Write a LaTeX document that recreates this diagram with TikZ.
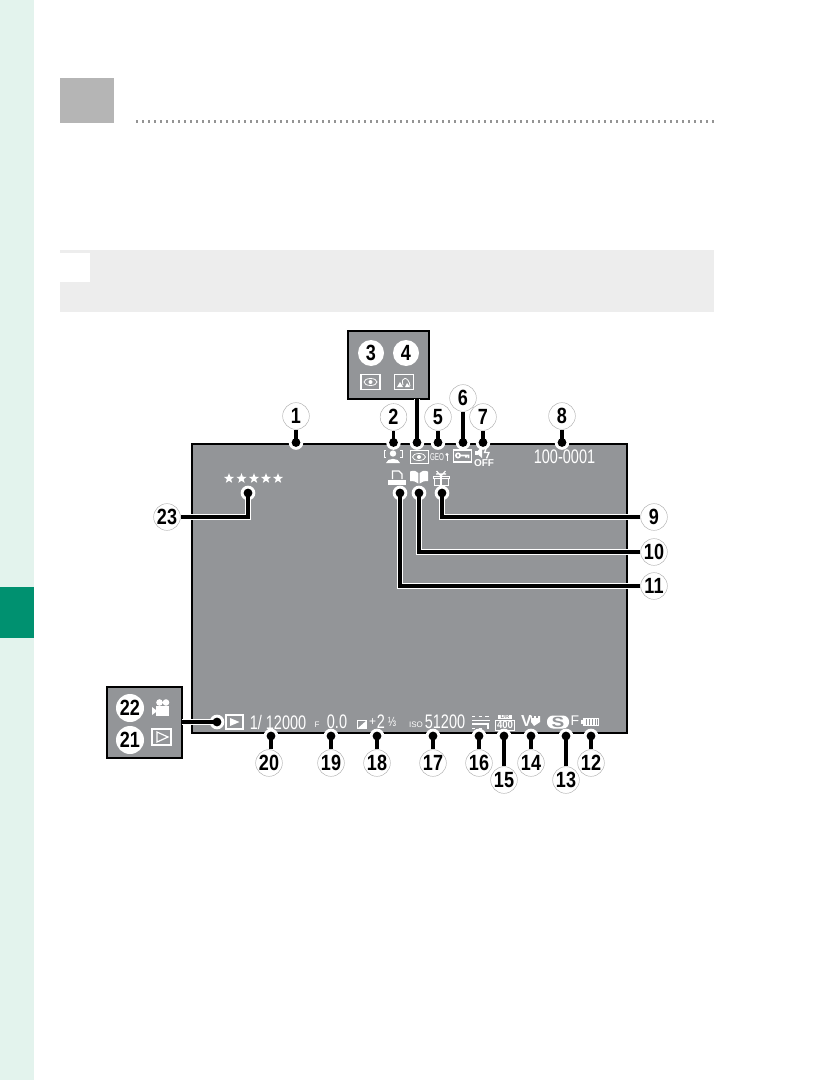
\documentclass[tikz,border=0pt]{standalone}
\usepackage{fontspec}
\setmainfont{Liberation Sans}
\usetikzlibrary{shapes.geometric, arrows.meta}
\definecolor{bandgreen}{HTML}{E3F3ED}
\definecolor{tabgreen}{HTML}{009170}
\definecolor{screengray}{HTML}{939598}
\definecolor{numring}{HTML}{A8A8A8}
\newcommand{\numtext}[1]{\scalebox{0.82}[1]{#1}}
\newcommand{\lcdtext}[1]{\scalebox{0.74}[1]{#1}}
\tikzset{
    callout/.style={circle, draw=numring, line width=0.3pt, fill=white, text=black, inner sep=0pt, minimum size=20pt, font=\fontsize{16.5}{16.5}\bfseries},
    insetnum/.style={circle, fill=white, text=black, inner sep=0pt, minimum size=19.5pt, font=\fontsize{16.5}{16.5}\bfseries},
    leadring/.style={circle, fill=white, inner sep=0pt, minimum size=11pt},
    leader/.style={line width=2.4pt, draw=black, shorten >=-3.2pt, -{Circle[length=6.4pt, width=6.4pt]}, preaction={draw=white, line width=3.8pt}},
    lcd/.style={text=white, inner sep=0pt, font=\fontsize{14.7}{14.7}\selectfont},
    lcdsmall/.style={text=white, inner sep=0pt, font=\fontsize{6}{6}\selectfont},
    icon/.style={draw=white, line width=0.6pt},
    insetbox/.style={draw=black, line width=1.6pt, fill=screengray},
    starmark/.style={star, star points=5, star point ratio=2.4, fill=white, inner sep=0pt, minimum size=8pt},
}
\begin{document}
\begin{tikzpicture}[x=0.75pt, y=-0.75pt]
    \useasboundingbox (0,0) rectangle (825,1080);
    % page furniture
    \fill[white] (0,0) rectangle (825,1080);
    \fill[bandgreen] (0,0) rectangle (34,1080);
    \fill[tabgreen] (0,587) rectangle (34,638);
    \fill[black!29] (60,78) rectangle (114,123);
    \draw[black!42, line width=1.7pt, dash pattern=on 1.7pt off 2.8pt] (136,121.5) -- (714,121.5);
    \fill[black!7] (60,250) rectangle (714,312);
    \fill[white] (60,253) rectangle (90,282);

    % screen
    \draw[fill=screengray, line width=1pt] (192,444) rectangle (627,733);

    % readouts on the screen
    \node[lcd] (folder) at (564.5,456.5) {\lcdtext{100-0001}};
    \node[lcd] (shutter) at (278,722) {\lcdtext{1/ 12000}};
    \node[lcdsmall] (fmark) at (317,725) {F};
    \node[lcd] (aperture) at (337,722) {\lcdtext{0.0}};
    \node[lcdsmall, font=\fontsize{9}{9}\selectfont] (evplus) at (372.5,722) {+};
    \node[lcd] (evwhole) at (381,722) {\lcdtext{2}};
    \node[lcd, font=\fontsize{10}{10}\selectfont] (evpart) at (392,722) {\lcdtext{⅓}};
    \node[lcdsmall] (isomark) at (416,725) {ISO};
    \node[lcd] (iso) at (445,722) {\lcdtext{51200}};
    \node[lcdsmall, font=\fontsize{10.5}{10.5}\selectfont] (quality) at (575,721) {F};
    \node[starmark] (star1) at (229,478.5) {};
    \node[starmark] (star2) at (241.5,478.5) {};
    \node[starmark] (star3) at (254,478.5) {};
    \node[starmark] (star4) at (266,478.5) {};
    \node[starmark] (star5) at (278,478.5) {};

    % face detection
    \begin{scope}[shift={(393,456)}]
    \draw[icon] (-7,-6) -- (-9,-6) -- (-9,1) -- (-7,1) (7,-6) -- (9,-6) -- (9,1) -- (7,1);
    \fill[white] (0,-2.5) circle (3.2);
    \fill[white] (-7,7) .. controls (-6,1.5) and (6,1.5) .. (7,7) -- cycle;
    \end{scope}
    % eye
    \begin{scope}[shift={(419,457)}]
    \draw[icon] (-9,-6.5) rectangle (9,6.5);
    \draw[icon] (0,0) ellipse (6.5 and 3.5);
    \fill[white] (0,0) circle (2);
    \end{scope}
    % geotag
    \node[text=white, inner sep=0pt, font=\fontsize{7.5}{7.5}\selectfont] (geo) at (437,457) {\scalebox{0.62}[1]{GEO}};
    \fill[white] (447,454.5) circle (1.6);
    \draw[icon] (447,454.5) -- (447,461);
    % key
    \begin{scope}[shift={(462.5,456)}]
    \draw[icon, line width=0.9pt] (-9,-6) rectangle (9,6);
    \draw[icon, line width=1.2pt] (-4.5,-0.5) circle (2.2) (-2.3,-0.5) -- (6,-0.5) -- (6,2) (3.5,-0.5) -- (3.5,1.5);
    \end{scope}
    % sound off
    \begin{scope}[shift={(483,452.5)}]
    \fill[white] (-8,-2) rectangle (-5,2);
    \fill[white] (-5,-2) -- (-1,-5.5) -- (-1,5.5) -- (-5,2) -- cycle;
    \draw[icon, line width=1pt] (4,-6) -- (1.5,0) -- (6,0) -- (3.5,6);
    \end{scope}
    \node[text=white, inner sep=0pt, font=\fontsize{7.5}{7.5}\bfseries] (soundoff) at (484,463) {OFF};
    % print order
    \begin{scope}[shift={(397,478)}]
    \draw[icon, line width=0.9pt] (-4.5,1) -- (-4.5,-7) -- (2,-7) -- (5,-4) -- (5,1);
    \fill[white] (-9,2) rectangle (9,7);
    \end{scope}
    % photobook
    \begin{scope}[shift={(419,477.5)}]
    \fill[white] (-9,-6) .. controls (-5,-7.5) and (-2,-6.5) .. (-0.7,-4.5) -- (-0.7,6) .. controls (-3,3.5) and (-6,3.5) .. (-9,3.5) -- cycle;
    \fill[white] (9,-6) .. controls (5,-7.5) and (2,-6.5) .. (0.7,-4.5) -- (0.7,6) .. controls (3,3.5) and (6,3.5) .. (9,3.5) -- cycle;
    \end{scope}
    % gift
    \begin{scope}[shift={(441,478)}]
    \draw[icon, line width=0.7pt] (-8,-2) rectangle (8,0.5) (-7,0.5) rectangle (7,7);
    \draw[icon, line width=1pt] (0,-2) -- (0,7);
    \draw[icon, line width=0.9pt] (0,-2) -- (-4.5,-7) (0,-2) -- (4.5,-7) (-5,-4) -- (5,-4);
    \end{scope}
    % play mode
    \begin{scope}[shift={(234.5,722)}]
    \draw[icon, line width=0.8pt] (-8.5,-7) rectangle (8.5,7);
    \fill[white] (-4.5,-4) -- (5,0) -- (-4.5,4) -- cycle;
    \end{scope}
    % exposure compensation
    \begin{scope}[shift={(362,724.5)}]
    \draw[icon] (-4.5,-4) rectangle (4.5,4);
    \fill[white] (-4.5,4) -- (4.5,-4) -- (4.5,4) -- cycle;
    \end{scope}
    % film strip warning
    \begin{scope}[shift={(481,722)}]
    \draw[icon, line width=0.9pt] (-9,-1.5) -- (9,-1.5) (-9,2) -- (7,2) -- (7,7);
    \draw[icon, dash pattern=on 2.5pt off 2.5pt] (-9,-6) -- (9,-6) (-9,6) -- (4,6);
    \end{scope}
    % dynamic range
    \begin{scope}[shift={(505,722)}]
    \fill[white] (-7,-7.5) rectangle (7,-3);
    \node[text=screengray, inner sep=0pt, font=\fontsize{4.5}{4.5}\bfseries] (drmark) at (0,-5.2) {DR};
    \draw[icon] (-9.5,-2) rectangle (9.5,8);
    \node[text=white, inner sep=0pt, font=\fontsize{8}{8}\bfseries] (drvalue) at (0,3.3) {\scalebox{0.9}[1]{400}};
    \end{scope}
    % film simulation
    \begin{scope}[shift={(531,721)}]
    \node[text=white, inner sep=0pt, font=\fontsize{12}{12}\bfseries] (filmv) at (-4.5,0) {V};
    \fill[white] (0,-5) rectangle (9,1) (0,1) -- (9,1) -- (3,5) -- cycle;
    \draw[screengray, line width=0.8pt, dash pattern=on 1.5pt off 1.5pt] (1,-4) -- (9,-4);
    \end{scope}
    % image size
    \begin{scope}[shift={(558,722)}]
    \fill[white, rounded corners=4.5pt] (-11,-6.5) rectangle (11,6.5);
    \node[text=screengray, inner sep=0pt, font=\fontsize{11}{11}\bfseries] (sizemark) at (0,0) {\scalebox{1.3}[1]{S}};
    \end{scope}
    % battery
    \begin{scope}[shift={(590,721.5)}]
    \draw[icon] (-7,-3.5) rectangle (8,3.5);
    \fill[white] (-9.5,-2) rectangle (-7,2);
    \draw[icon, line width=4.5pt, dash pattern=on 1.3pt off 0.9pt] (-6,0) -- (7.5,0);
    \end{scope}

    % inset boxes
    \draw[insetbox] (348,331) rectangle (429,399);
    \draw[insetbox] (107,687) rectangle (182,758);
    \coordinate (insettop) at (417,399);
    \coordinate (insetleft) at (182,722);

    % inset contents
    \node[insetnum] (n3) at (371,353) {\numtext{3}};
    \node[insetnum] (n4) at (406,353) {\numtext{4}};
    \node[insetnum, minimum size=21pt] (n22) at (130,708) {\numtext{22}};
    \node[insetnum, minimum size=21pt] (n21) at (130,740) {\numtext{21}};
    \begin{scope}[shift={(370.5,382)}]
    \draw[icon, line width=0.8pt] (-9.5,-7.5) rectangle (9.5,7.5);
    \draw[icon] (0,0) ellipse (6.5 and 3.5);
    \fill[white] (0,0) circle (2);
    \end{scope}
    \begin{scope}[shift={(404,382)}]
    \draw[icon, line width=0.8pt] (-9.5,-7.5) rectangle (9.5,7.5);
    \draw[icon] (-1,3) .. controls (-4,-6) and (5,-6) .. (6,4);
    \fill[white] (-7,5) -- (-4,0) -- (-1,5) -- cycle (1,5) -- (3,1) -- (6,5) -- cycle;
    \end{scope}
    \begin{scope}[shift={(162,709)}]
    \fill[white] (-6,-3) rectangle (7,7);
    \fill[white] (-2.5,-6.5) circle (3.3) (4,-6.5) circle (3.3);
    \fill[white] (-10,-2) -- (-6,1) -- (-6,3) -- (-10,6) -- cycle;
    \end{scope}
    \begin{scope}[shift={(162,737)}]
    \draw[icon, line width=0.9pt] (-10,-8) rectangle (9,8);
    \draw[icon, line width=0.9pt] (-5,-5) -- (6,0) -- (-5,5) -- cycle;
    \end{scope}

    % callouts on top
    \node[callout] (n1) at (296,416) {\numtext{1}};
    \node[callout] (n2) at (393.5,417) {\numtext{2}};
    \node[callout] (n5) at (438,417) {\numtext{5}};
    \node[callout] (n6) at (463,398) {\numtext{6}};
    \node[callout] (n7) at (483,417) {\numtext{7}};
    \node[callout] (n8) at (562,416) {\numtext{8}};
    % callouts on the right
    \node[callout] (n9) at (654,517) {\numtext{9}};
    \node[callout] (n10) at (654,552) {\numtext{10}};
    \node[callout] (n11) at (654,586) {\numtext{11}};
    % callouts below
    \node[callout] (n12) at (591,763) {\numtext{12}};
    \node[callout] (n13) at (566,780) {\numtext{13}};
    \node[callout] (n14) at (531,763) {\numtext{14}};
    \node[callout] (n15) at (504,780) {\numtext{15}};
    \node[callout] (n16) at (479,763) {\numtext{16}};
    \node[callout] (n17) at (433,763) {\numtext{17}};
    \node[callout] (n18) at (377,763) {\numtext{18}};
    \node[callout] (n19) at (331,763) {\numtext{19}};
    \node[callout] (n20) at (269,763) {\numtext{20}};
    \node[callout] (n23) at (167,517) {\numtext{23}};

    % white rings at the free ends
    \node[leadring] (d1) at (296,442.5) {};
    \node[leadring] (d2) at (393.5,442.5) {};
    \node[leadring] (d34) at (417,442.5) {};
    \node[leadring] (d5) at (438,442.5) {};
    \node[leadring] (d6) at (463,442.5) {};
    \node[leadring] (d7) at (483,442.5) {};
    \node[leadring] (d8) at (562,442.5) {};
    \node[leadring] (d9) at (442,493) {};
    \node[leadring] (d10) at (419,493) {};
    \node[leadring] (d11) at (400,493) {};
    \node[leadring] (d12) at (591,736) {};
    \node[leadring] (d13) at (566,736) {};
    \node[leadring] (d14) at (531,736) {};
    \node[leadring] (d15) at (504,736) {};
    \node[leadring] (d16) at (479,736) {};
    \node[leadring] (d17) at (433,736) {};
    \node[leadring] (d18) at (377,736) {};
    \node[leadring] (d19) at (331,736) {};
    \node[leadring] (d20) at (271,736) {};
    \node[leadring] (d23) at (248,493) {};
    \node[leadring] (d2122) at (217,722) {};

    % leaders
    \draw[leader] (n1) -- (d1.center);
    \draw[leader] (n2) -- (d2.center);
    \draw[leader] (insettop) -- (d34.center);
    \draw[leader] (n5) -- (d5.center);
    \draw[leader] (n6) -- (d6.center);
    \draw[leader] (n7) -- (d7.center);
    \draw[leader] (n8) -- (d8.center);
    \draw[leader] (n12) -- (d12.center);
    \draw[leader] (n13) -- (d13.center);
    \draw[leader] (n14) -- (d14.center);
    \draw[leader] (n15) -- (d15.center);
    \draw[leader] (n16) -- (d16.center);
    \draw[leader] (n17) -- (d17.center);
    \draw[leader] (n18) -- (d18.center);
    \draw[leader] (n19) -- (d19.center);
    \draw[leader] (n20.north -| d20.center) -- (d20.center);
    \draw[leader] (n9) -| (d9.center);
    \draw[leader] (n10) -| (d10.center);
    \draw[leader] (n11) -| (d11.center);
    \draw[leader] (n23) -| (d23.center);
    \draw[leader] (insetleft) -- (d2122.center);
\end{tikzpicture}
\end{document}
